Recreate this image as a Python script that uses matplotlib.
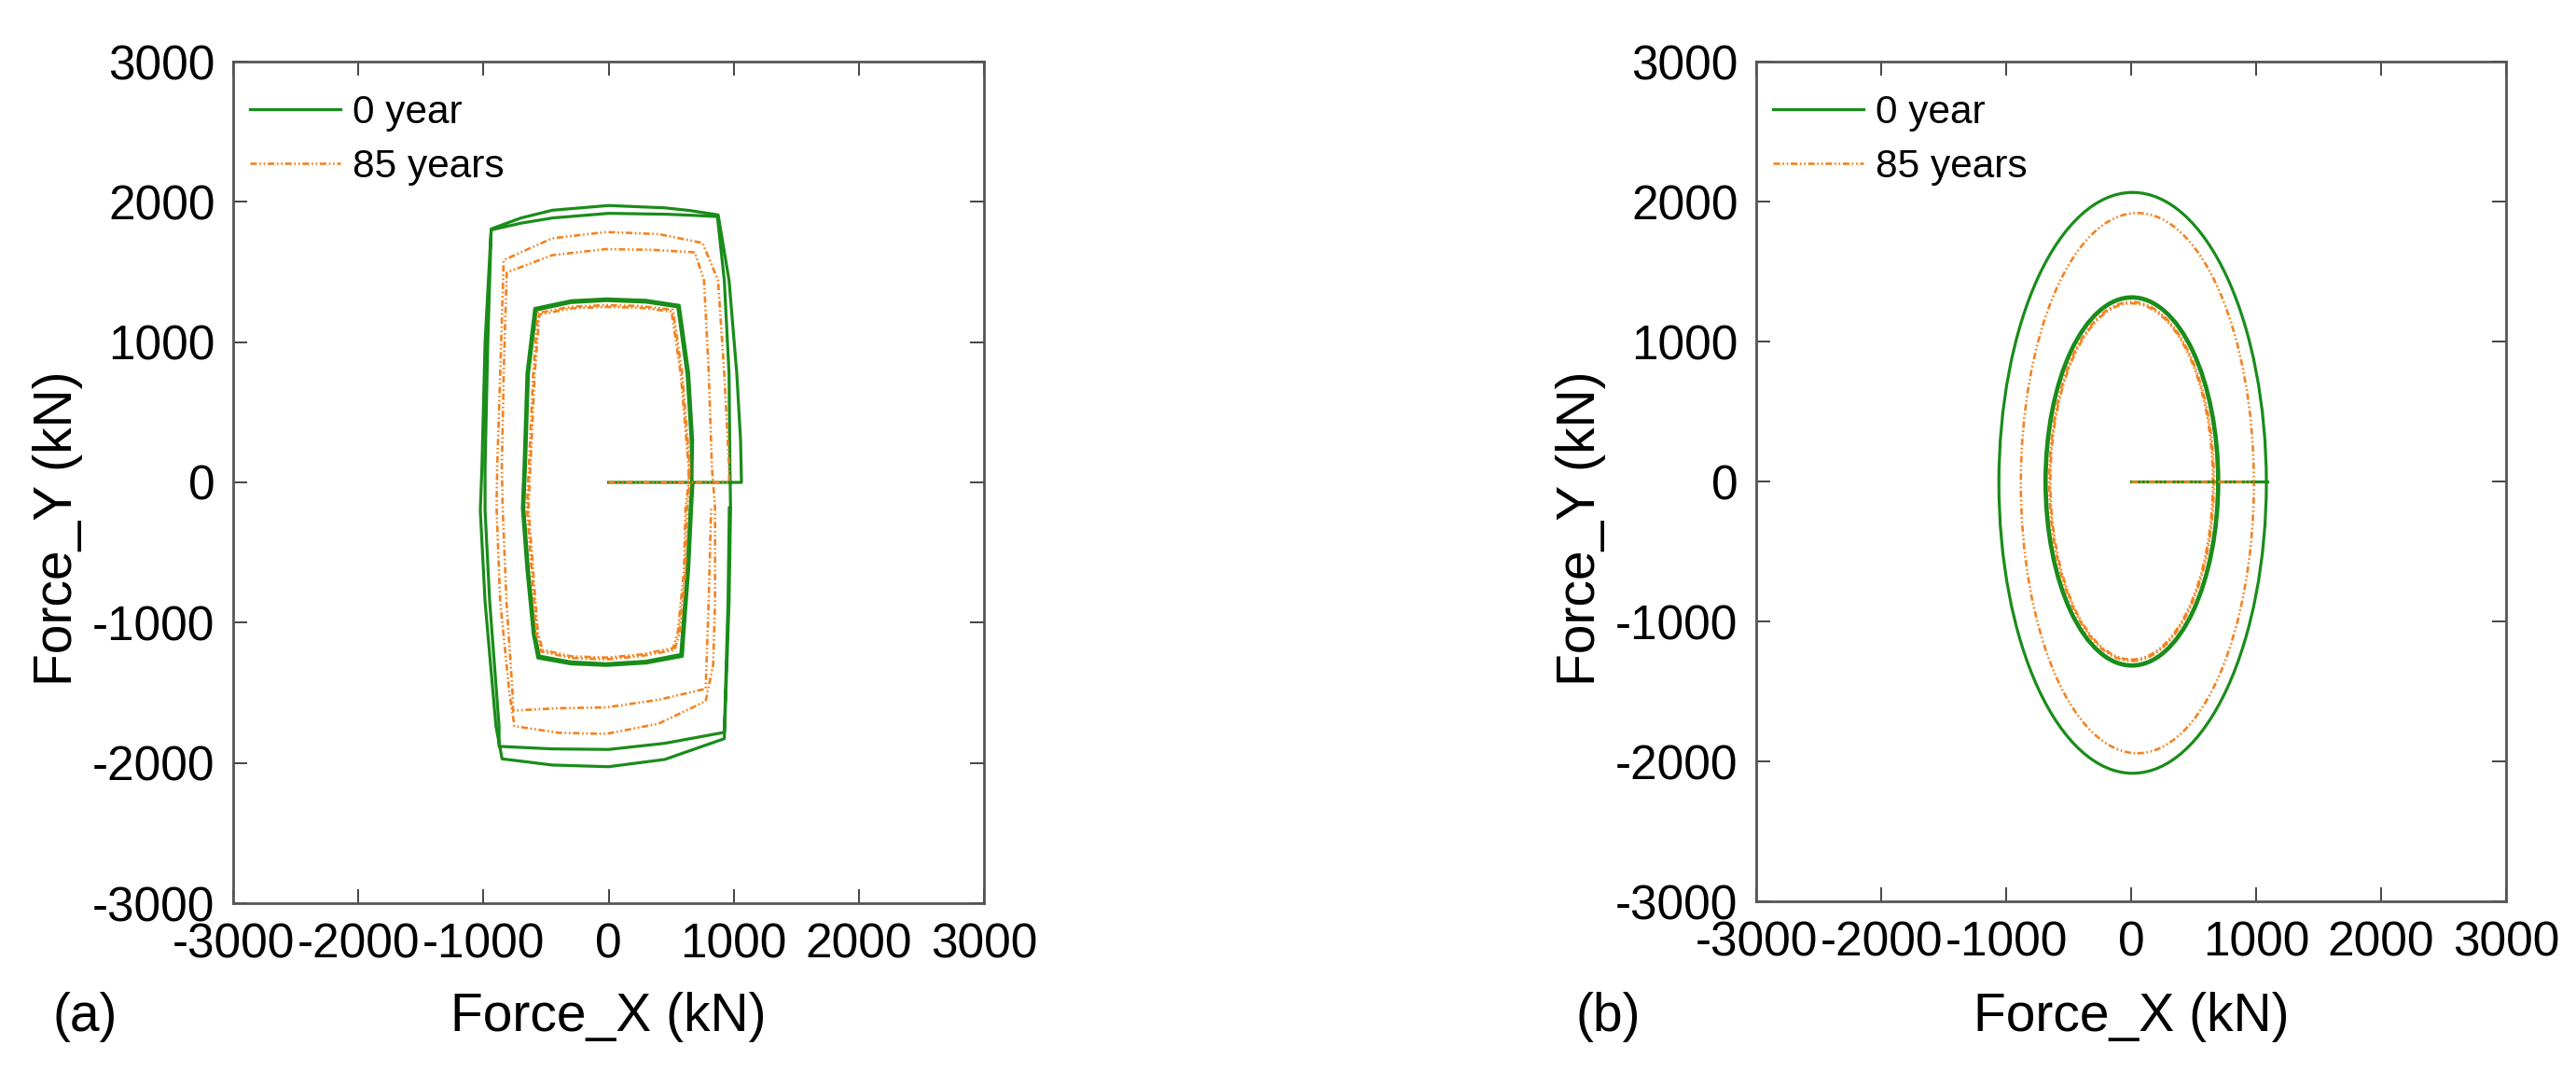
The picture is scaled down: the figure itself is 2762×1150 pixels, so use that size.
import matplotlib
matplotlib.use("Agg")
import matplotlib.pyplot as plt
from matplotlib.patches import Ellipse

plt.rcParams["font.family"] = ["Liberation Sans", "DejaVu Sans"]
plt.rcParams["lines.scale_dashes"] = False
plt.rcParams["axes.unicode_minus"] = False

GREEN = "#1a8c1a"
ORANGE = "#f5821f"
DASH_DOT_DOT = (0, (5, 2, 1.2, 2, 1.2, 2))

TICKS = [-3000, -2000, -1000, 0, 1000, 2000, 3000]
SERIES = ["0 year", "85 years"]

# (a) force path in kN, 0 year: spoke, two inner cycles, spoke, two outer cycles
A0_X = [0, 665,
        660, 627, 553, 300, -19, -300, -577, -640, -664, -677, -640, -590, -553,
        -300, -19, 300, 577, 590, 627, 652, 665,
        672, 640, 565, 300, -19, -300, -590, -652, -676, -689, -652, -602, -565,
        -300, -19, 300, 590, 602, 640, 664, 675,
        1062,
        1055, 1025, 963, 876, 650, 450, 0, -450, -700, -938, -987, -1012, -1025, -987, -900, -851,
        -450, 0, 450, 925,
        963, 975, 970, 963, 925, 870, 650, 450, 0, -450, -700, -938, -965, -987, -987, -950, -875, -875,
        -450, 0, 450, 925, 955, 965]
A0_Y = [0, 0,
        300, 773, 1251, 1285, 1296, 1282, 1229, 773, 107, -182, -627, -1071, -1238,
        -1280, -1293, -1275, -1227, -1071, -627, -182, 0,
        300, 780, 1262, 1298, 1308, 1295, 1240, 780, 107, -182, -627, -1080, -1252,
        -1294, -1305, -1288, -1240, -1080, -627, -182, 0,
        0,
        300, 773, 1440, 1907, 1938, 1957, 1974, 1940, 1885, 1807, 996, 107, -200, -849, -1738, -1971,
        -2015, -2027, -1975, -1827,
        -849, -182, 107, 773, 1440, 1895, 1905, 1912, 1918, 1885, 1848, 1800, 996, 107, -200, -849, -1738, -1882,
        -1900, -1904, -1860, -1782, -849, -182]

# (a) force path in kN, 85 years
A85_X = [0, 640,
         640, 577, 503, 250, -19, -300, -553, -590, -625, -640, -603, -565, -528,
         -300, -19, 250, 515, 553, 603, 615, 640,
         650, 588, 515, 250, -19, -300, -565, -602, -637, -652, -615, -577, -540,
         -300, -19, 250, 527, 565, 615, 627, 650,
         963,
         963, 925, 875, 751, 400, -19, -450, -838, -866, -890, -895, -866, -791, -752,
         -400, -19, 400, 776,
         836, 851, 851, 826, 801, 763, 689, 350, -19, -450, -814, -838, -853, -846, -816, -766, -764,
         -400, -19, 400, 776, 800, 820]
A85_Y = [0, 0,
         107, 773, 1218, 1245, 1251, 1240, 1196, 773, 107, -182, -627, -1071, -1193,
         -1240, -1249, -1228, -1182, -1071, -627, -182, 0,
         107, 780, 1230, 1258, 1264, 1252, 1208, 780, 107, -182, -627, -1080, -1205,
         -1252, -1262, -1240, -1195, -1080, -627, -182, 0,
         0,
         107, 773, 1440, 1707, 1770, 1785, 1740, 1585, 773, 107, -182, -849, -1515, -1738,
         -1785, -1793, -1720, -1560,
         -1300, -849, -182, 107, 773, 1440, 1640, 1658, 1663, 1620, 1496, 773, 107, -182, -849, -1515, -1627,
         -1610, -1604, -1550, -1471, -849, -182]

# (b) spoke end along Force_X and elliptical orbits (centre x, centre y, width, height) in kN
B0_SPOKE = 1090
B0_CX = [6, 6, 12]
B0_CY = [0, 0, -10]
B0_W = [1370, 1392, 2140]
B0_H = [2620, 2640, 4150]

B85_SPOKE = 985
B85_CX = [4, 4, 50]
B85_CY = [0, 0, -12]
B85_W = [1300, 1318, 1865]
B85_H = [2545, 2565, 3860]


def style_axes(ax):
    ax.set_xlim(-3000, 3000)
    ax.set_ylim(-3000, 3000)
    ax.set_xticks(TICKS)
    ax.set_yticks(TICKS)
    ax.tick_params(direction="in", length=11, width=1.4, top=True, right=True,
                   labelsize=37, color="#444444")
    ax.tick_params(axis="x", pad=15)
    ax.tick_params(axis="y", pad=14)
    for s in ax.spines.values():
        s.set_color("#555555")
        s.set_linewidth(2)
    ax.legend(loc="upper left", bbox_to_anchor=(0.022, 0.961), frameon=False,
              fontsize=30.5, handlelength=2.3, handletextpad=0.3,
              labelspacing=0.42, borderpad=0, borderaxespad=0)


def plot_panel_a(ax):
    ax.plot(A0_X, A0_Y, color=GREEN, lw=2.3, label=SERIES[0])
    ax.plot(A85_X, A85_Y, color=ORANGE, lw=1.9, linestyle=DASH_DOT_DOT, label=SERIES[1])
    style_axes(ax)


def plot_panel_b(ax):
    ax.plot([0, B0_SPOKE], [0, 0], color=GREEN, lw=2.3, label=SERIES[0])
    for cx, cy, w, h in zip(B0_CX, B0_CY, B0_W, B0_H):
        ax.add_patch(Ellipse((cx, cy), w, h, fill=False, edgecolor=GREEN, lw=2.3))
    ax.plot([0, B85_SPOKE], [0, 0], color=ORANGE, lw=1.9, linestyle=DASH_DOT_DOT, label=SERIES[1])
    for cx, cy, w, h in zip(B85_CX, B85_CY, B85_W, B85_H):
        ax.add_patch(Ellipse((cx, cy), w, h, fill=False, edgecolor=ORANGE, lw=1.9,
                             linestyle=DASH_DOT_DOT))
    style_axes(ax)


fig = plt.figure(figsize=(27.62, 11.5), dpi=100)
ax_a = fig.add_axes([250 / 2762, 182 / 1150, 805 / 2762, 902 / 1150])
ax_b = fig.add_axes([1883 / 2762, 184 / 1150, 804 / 2762, 900 / 1150])
plot_panel_a(ax_a)
plot_panel_b(ax_b)

for x_px, tag in [(91, "(a)"), (1724, "(b)")]:
    fig.text(x_px / 2762, 1 - 1090 / 1150, tag, fontsize=41, ha="center", va="center")
fig.text(652 / 2762, 1 - 1090 / 1150, "Force_X (kN)", fontsize=41, ha="center", va="center")
fig.text(2285 / 2762, 1 - 1090 / 1150, "Force_X (kN)", fontsize=41, ha="center", va="center")
fig.text(62 / 2762, 1 - 566 / 1150, "Force_Y (kN)", fontsize=41, rotation=90, ha="center", va="center")
fig.text(1695 / 2762, 1 - 566 / 1150, "Force_Y (kN)", fontsize=41, rotation=90, ha="center", va="center")

fig.savefig("out.png", dpi=100)
plt.close(fig)
